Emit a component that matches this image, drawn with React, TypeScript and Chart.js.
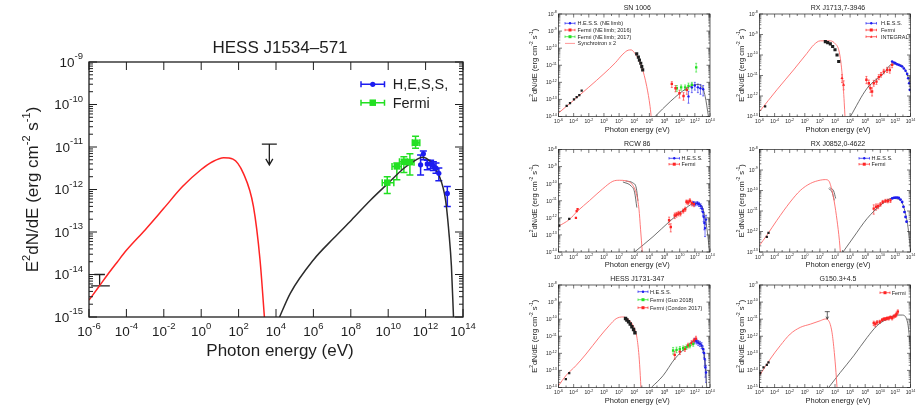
import React, { useEffect, useRef } from "react";
import { Chart, registerables } from "chart.js";
Chart.register(...registerables);

// ================= MAIN: HESS J1534-571 =================
const mainSyncE = [1e-6, 3.2e-6, 1e-5, 3.2e-5, 1e-4, 1e-3, 1e-2, 0.1, 1, 4, 16, 50, 180, 620, 1400, 2400];
const mainSyncF = [2.5e-15, 5e-15, 1e-14, 1.95e-14, 3.7e-14, 1.12e-13, 3.6e-13, 1.17e-12, 2.95e-12, 4.5e-12, 5.6e-12, 5.2e-12, 2.4e-12, 4.0e-13, 2.2e-14, 1e-15];
const mainIcE = [1.55e4, 5.8e4, 1e6, 1.2e7, 1.07e8, 1.12e9, 1e10, 6.9e10, 3.6e11, 6.6e11, 1.86e12, 5.1e12, 1.17e13, 1.78e13, 2.4e13, 3.1e13];
const mainIcF = [1e-15, 3.6e-15, 2.2e-14, 7.1e-14, 1.9e-13, 5.6e-13, 1.41e-12, 3.16e-12, 5.2e-12, 5.75e-12, 4.5e-12, 2.2e-12, 5.6e-13, 9.3e-14, 1.58e-14, 1e-15];
const fermiE = [8.9e9, 2.9e10, 6.9e10, 1.45e11, 2.9e11];
const fermiF = [1.45e-12, 3.5e-12, 4.5e-12, 4.4e-12, 1.26e-11];
const fermiFLo = [8.1e-13, 1.7e-12, 2.5e-12, 2.2e-12, 9.3e-12];
const fermiFHi = [2.0e-12, 4.2e-12, 5.9e-12, 6.9e-12, 1.8e-11];
const fermiELo = [4.8e9, 1.6e10, 4.0e10, 9.0e10, 1.95e11];
const fermiEHi = [2.0e10, 5.0e10, 1.1e11, 2.4e11, 4.9e11];
const hessE = [5.4e11, 7.6e11, 1.23e12, 1.86e12, 2.6e12, 3.6e12, 5.1e12, 1.45e13];
const hessF = [3.8e-12, 6.9e-12, 4.0e-12, 4.0e-12, 3.6e-12, 3.2e-12, 2.4e-12, 8.1e-13];
const hessFLo = [2.2e-12, 5.0e-12, 2.9e-12, 3.1e-12, 2.8e-12, 2.4e-12, 1.6e-12, 4.0e-13];
const hessFHi = [6.5e-12, 8.1e-12, 4.9e-12, 4.9e-12, 4.5e-12, 4.2e-12, 3.2e-12, 1.17e-12];
const radioE = [3.7e-6];
const radioF = [5.4e-15];
const radioFHi = [1.0e-14];
const radioELo = [1.3e-6];
const radioEHi = [1.3e-5];
const ulE = 4.4e3, ulF = 1.17e-11, ulTo = 3.8e-12;

// ================= P1: SN 1006 =================
const p1SyncE = [1e-6, 1e-4, 1e-2, 1, 32, 320, 1600, 4000, 1e4, 3.2e4, 1e5, 4.5e5, 1.23e6, 1.8e6];
const p1SyncF = [1.6e-14, 8.9e-14, 5.2e-13, 3.2e-12, 1.4e-11, 4.5e-11, 7.6e-11, 7.9e-11, 5.6e-11, 2.5e-11, 7.9e-12, 5.6e-13, 3.8e-14, 8e-15];
const p1IcE = [5.6e6, 5.5e8, 8.7e10, 1.8e12, 8.3e12, 2.3e13, 6.3e13];
const p1IcF = [1e-14, 7.4e-14, 4.5e-13, 7.5e-13, 6e-13, 1.5e-13, 1e-14];
const p1RadioE = [1.2e-5, 3.3e-5, 1.1e-4, 2.5e-4, 5.6e-4, 1.15e-3];
const p1RadioF = [4.2e-14, 6.0e-14, 1.0e-13, 1.35e-13, 1.8e-13, 3.3e-13];
const p1XrayE = [2.1e4, 3.5e4, 4.8e4, 7.2e4, 9.8e4, 1.3e5];
const p1XrayF = [4.6e-11, 3.0e-11, 2.0e-11, 1.3e-11, 8.3e-12, 5.4e-12];
const p1HessE = [1.45e11, 4e11, 1e12, 2.5e12, 5.5e12, 1.26e13];
const p1HessF = [1.5e-13, 5.1e-13, 6.5e-13, 5.1e-13, 4.5e-13, 3.9e-13];
const p1HessLo = [6e-14, 2.5e-13, 3.5e-13, 2.5e-13, 2e-13, 1.6e-13];
const p1HessHi = [3e-13, 8e-13, 1e-12, 8e-13, 7.5e-13, 6.5e-13];
const p1F16E = [9.1e8, 2.8e9, 9.3e9, 3.2e10, 8.7e10];
const p1F16F = [8.1e-13, 4.5e-13, 2.3e-13, 1.6e-13, 3.6e-13];
const p1F16Lo = [5e-13, 2.8e-13, 1.2e-13, 9e-14, 2e-13];
const p1F16Hi = [1.1e-12, 6.5e-13, 3.5e-13, 2.5e-13, 5e-13];
const p1F17E = [4.2e9, 1.55e10, 5.2e10, 1.45e11, 4e11, 1.5e12];
const p1F17F = [4.5e-13, 5.1e-13, 5.1e-13, 6.2e-13, 7.1e-13, 7.5e-12];
const p1F17Lo = [3e-13, 3.5e-13, 3.5e-13, 4e-13, 4.5e-13, 4e-12];
const p1F17Hi = [6.5e-13, 7e-13, 7e-13, 9e-13, 1e-12, 1.3e-11];

// ================= P2: RX J1713.7-3946 =================
const p2SyncE = [1e-6, 2e-4, 3.2e-2, 1.9, 15, 112, 2.4e3, 1.1e4, 3.1e4, 6e4, 8.9e4, 1.26e5, 1.66e5, 2.1e5];
const p2SyncF = [1.74e-13, 2e-12, 1.86e-11, 1.2e-10, 3.1e-10, 4.9e-10, 4.9e-10, 3.5e-10, 1.8e-10, 4.5e-11, 1.1e-11, 2.5e-12, 5e-13, 1e-13];
const p2XrayE = [525, 1070, 2400, 4900, 1e4, 1.86e4, 3.1e4];
const p2XrayF = [4.5e-10, 4e-10, 3.5e-10, 2.6e-10, 1.8e-10, 1e-10, 4.8e-11];
const p2IntE = [8.5e4, 1.4e5];
const p2IntF = [7.4e-12, 3.5e-12];
const p2IntLo = [4.5e-12, 2e-12];
const p2IntHi = [1.1e-11, 5.5e-12];
const p2RadioE = [5.6e-6];
const p2RadioF = [3.1e-13];
const p2FermiE = [1.45e8, 3e8, 4.9e8, 8.1e8, 1.35e9, 3.1e9, 6.3e9, 1.26e10, 2.9e10, 7.9e10, 1.8e11, 3.7e11];
const p2FermiF = [6.2e-12, 4.2e-12, 2.4e-12, 1.66e-12, 4.2e-12, 5e-12, 8.3e-12, 1.07e-11, 1.55e-11, 1.86e-11, 1.86e-11, 3.3e-11];
const p2FermiLo = [4e-12, 2.8e-12, 1.5e-12, 1e-12, 3e-12, 3.7e-12, 6.3e-12, 8.3e-12, 1.2e-11, 1.4e-11, 1.3e-11, 2.4e-11];
const p2FermiHi = [9e-12, 6e-12, 3.6e-12, 2.5e-12, 5.8e-12, 6.8e-12, 1.1e-11, 1.4e-11, 2e-11, 2.5e-11, 2.6e-11, 4.4e-11];
const p2HessE = [3.7e11, 6.2e11, 1e12, 1.7e12, 2.8e12, 4.7e12, 7.8e12, 1.3e13, 2.2e13, 3.6e13, 4.9e13, 6.6e13, 8.1e13];
const p2HessF = [4.8e-11, 4.3e-11, 4e-11, 3.5e-11, 3.3e-11, 3e-11, 2.75e-11, 2.2e-11, 1.7e-11, 1.2e-11, 7.4e-12, 4.2e-12, 2e-12];
const p2IcE = [1.1e6, 1.8e8, 2.9e10, 3.7e11, 4.7e12, 3.6e13, 1e14, 1.3e14];
const p2IcF = [1e-13, 2.4e-12, 1.3e-11, 3.6e-11, 3.3e-11, 1.07e-11, 1.4e-12, 1e-13];

// ================= P3: RCW 86 =================
const p3SyncE = [1e-6, 2.6e-5, 3.3e-4, 1.17e-2, 0.69, 15, 112, 870, 6.6e3, 2.2e4, 4.2e4, 6.9e4, 1.15e5];
const p3SyncF = [3.2e-13, 7.9e-13, 2.5e-12, 1e-11, 5e-11, 1.38e-10, 1.58e-10, 1.45e-10, 7.9e-11, 2e-11, 3.2e-12, 2e-13, 1e-14];
const p3BowAE = [316, 4e3, 1.1e4, 2.2e4];
const p3BowAF = [1.26e-10, 7.2e-11, 3.2e-11, 4e-12];
const p3BowBE = [710, 6.6e3, 1.86e4, 3.1e4];
const p3BowBF = [1.45e-10, 1.1e-10, 5.5e-11, 1e-11];
const p3RadioE = [1.23e-6, 2.6e-5];
const p3RadioF = [3.5e-13, 8.7e-13];
const p3RadRedE = [2e-4, 2.5e-4, 3.3e-4];
const p3RadRedF = [1e-12, 2.5e-12, 3.2e-12];
const p3FermiE = [4e8, 6.6e8, 2.2e9, 3.8e9, 6.9e9, 1.26e10, 2.9e10, 5.4e10, 7.9e10, 1.3e11, 2.2e11, 4.1e11, 7.6e11];
const p3FermiF = [7.2e-13, 2.9e-13, 1.38e-12, 1.58e-12, 1.8e-12, 1.8e-12, 2.5e-12, 3.2e-12, 8.7e-12, 7.9e-12, 1e-11, 7.2e-12, 6.3e-12];
const p3FermiLo = [4e-13, 1.5e-13, 9e-13, 1.1e-12, 1.3e-12, 1.3e-12, 1.9e-12, 2.4e-12, 6.5e-12, 5.8e-12, 7.5e-12, 5e-12, 4.5e-12];
const p3FermiHi = [1.1e-12, 4.5e-13, 1.9e-12, 2.1e-12, 2.4e-12, 2.4e-12, 3.3e-12, 4.2e-12, 1.1e-11, 1.05e-11, 1.3e-11, 9.5e-12, 8.5e-12];
const p3HessE = [6.2e11, 1.12e12, 2.1e12, 3.5e12, 5.8e12, 8.7e12, 1.17e13, 1.45e13, 1.8e13, 2.2e13, 3e13];
const p3HessF = [7.2e-12, 6.6e-12, 7.2e-12, 6.3e-12, 5e-12, 3.5e-12, 2.2e-12, 1.15e-12, 5e-13, 2.5e-13, 7.9e-13];
const p3HessLo = [5.5e-12, 5e-12, 5.5e-12, 4.6e-12, 3.5e-12, 2.3e-12, 1.3e-12, 6e-13, 2e-13, 8e-14, 4e-13];
const p3HessHi = [9e-12, 8.5e-12, 9e-12, 8e-12, 6.6e-12, 4.8e-12, 3.3e-12, 2e-12, 1e-12, 5.5e-13, 1.4e-12];
const p3IcE = [1.1e4, 3e6, 4.9e8, 7.9e10, 1e12, 7.9e12, 2.2e13, 6e13, 1.2e14];
const p3IcF = [1e-14, 7.9e-14, 6.3e-13, 4e-12, 7.2e-12, 5e-12, 1e-12, 5e-14, 1e-15];

// ================= P4: RX J0852.0-4622 =================
const p4SyncE = [1e-6, 9.3e-6, 2e-4, 1.17e-2, 0.25, 5.4, 112, 525, 1450, 4e3, 8.1e3, 1.86e4, 3.8e4, 5.1e4];
const p4SyncF = [2.1e-13, 6.5e-13, 3.5e-12, 2.75e-11, 1e-10, 2.2e-10, 3.2e-10, 3.4e-10, 3e-10, 1e-10, 2.75e-11, 3.5e-12, 3.7e-13, 1e-13];
const p4BowAE = [1450, 4e3, 8.1e3];
const p4BowAF = [1.23e-10, 8.5e-11, 3.3e-11];
const p4BowBE = [1950, 6.6e3, 1.23e4];
const p4BowBF = [1.38e-10, 9.5e-11, 4.1e-11];
const p4RadioE = [9.3e-6, 1.55e-5];
const p4RadioF = [5.4e-13, 8.5e-13];
const p4FermiE = [1.35e9, 2.75e9, 5.1e9, 1.05e10, 2.1e10, 4.8e10, 9.8e10, 2.2e11];
const p4FermiF = [1.3e-11, 1.6e-11, 1.7e-11, 2.1e-11, 2.75e-11, 3.1e-11, 3.1e-11, 3.3e-11];
const p4FermiLo = [7e-12, 1.1e-11, 1.3e-11, 1.7e-11, 2.3e-11, 2.6e-11, 2.5e-11, 2.6e-11];
const p4FermiHi = [2e-11, 2.2e-11, 2.2e-11, 2.6e-11, 3.3e-11, 3.7e-11, 3.8e-11, 4e-11];
const p4HessE = [3.7e11, 6.2e11, 1e12, 1.7e12, 2.8e12, 4.7e12, 7.8e12, 1.17e13, 1.6e13, 2.2e13, 3e13];
const p4HessF = [4.1e-11, 4.4e-11, 4.5e-11, 4.5e-11, 4.4e-11, 3.6e-11, 2.75e-11, 1.6e-11, 8.9e-12, 5.1e-12, 3e-12];
const p4IcE = [1.15e5, 3e6, 1.8e8, 1.05e10, 3.7e11, 4.7e12, 2.2e13, 6e13, 1e14];
const p4IcF = [1e-13, 5.4e-13, 4.3e-12, 1.9e-11, 4.1e-11, 3.3e-11, 7.4e-12, 7.9e-13, 1e-13];

// ================= P5: HESS J1731-347 =================
const p5SyncE = [1e-6, 9.3e-6, 2e-4, 4.3e-3, 0.25, 5.4, 41, 316, 2.4e3, 1.1e4, 2.2e4, 4.2e4, 6.3e4, 7.6e4];
const p5SyncF = [1.26e-14, 4.9e-14, 1.9e-13, 9.1e-13, 8.9e-12, 4.4e-11, 1.07e-10, 1.35e-10, 8.5e-11, 2.75e-11, 9e-12, 7.4e-13, 4.9e-14, 1e-14];
const p5XrayE = [710, 1070, 1780, 2950, 4900, 8100, 1.23e4];
const p5XrayF = [1.1e-10, 9e-11, 7e-11, 5.2e-11, 3.6e-11, 2.5e-11, 1.6e-11];
const p5RadioE = [9.3e-6, 2.6e-5];
const p5RadioF = [3.1e-14, 6.9e-14];
const p5GuoE = [1.35e9, 3.8e9, 1.05e10, 2.9e10, 7.9e10, 2.2e11, 6.2e11];
const p5GuoF = [1.45e-12, 1.6e-12, 1.8e-12, 2e-12, 2.3e-12, 2.9e-12, 3.6e-12];
const p5GuoLo = [9e-13, 1.1e-12, 1.3e-12, 1.5e-12, 1.7e-12, 2.1e-12, 2.6e-12];
const p5GuoHi = [2.2e-12, 2.3e-12, 2.5e-12, 2.7e-12, 3.1e-12, 3.9e-12, 5e-12];
const p5CondonE = [2.2e9, 1.05e10, 4.8e10, 1.3e11, 3.7e11, 7.6e11, 1.4e12];
const p5CondonF = [8.1e-13, 1.26e-12, 1.8e-12, 2.9e-12, 4.1e-12, 5.6e-12, 7.1e-12];
const p5CondonLo = [4.5e-13, 8.5e-13, 1.3e-12, 2.1e-12, 3e-12, 4e-12, 5e-12];
const p5CondonHi = [1.3e-12, 1.8e-12, 2.5e-12, 3.9e-12, 5.5e-12, 7.6e-12, 1e-11];
const p5HessE = [1e12, 1.7e12, 2.8e12, 4.7e12, 7.8e12, 1.17e13, 1.6e13, 1.95e13, 2.4e13, 3e13];
const p5HessF = [5.6e-12, 4.9e-12, 4.1e-12, 3.6e-12, 2.9e-12, 1.8e-12, 1.05e-12, 4.7e-13, 1.5e-13, 7.6e-14];
const p5HessLo = [4e-12, 3.5e-12, 2.9e-12, 2.5e-12, 1.9e-12, 1.1e-12, 5.5e-13, 1.8e-13, 4e-14, 2e-14];
const p5HessHi = [7.5e-12, 6.6e-12, 5.6e-12, 5e-12, 4.2e-12, 2.7e-12, 1.8e-12, 1e-12, 4e-13, 2e-13];
const p5IcE = [1.8e6, 6.3e7, 2.2e9, 7.9e10, 1e12, 7.8e12, 2.2e13, 5e13];
const p5IcF = [1e-14, 4.9e-14, 4.7e-13, 2.3e-12, 5.6e-12, 2.9e-12, 3e-13, 1e-15];

// ================= P6: G150.3+4.5 =================
const p6SyncE = [1e-6, 2.6e-5, 5.5e-4, 1.17e-2, 0.25, 5.4, 112, 525, 1450, 4e3, 8.1e3, 1.35e4, 1.86e4];
const p6SyncF = [4.9e-15, 4.6e-14, 2.8e-13, 1.35e-12, 3.3e-12, 5.1e-12, 8.1e-12, 1.02e-11, 8.1e-12, 1.7e-12, 1.12e-13, 7.6e-15, 1e-15];
const p6RadioE = [1.2e-6, 3.4e-6, 9.3e-6, 1.55e-5];
const p6RadioF = [6.9e-15, 1.5e-14, 2.1e-14, 3e-14];
const p6FermiE = [1.35e9, 2.2e9, 3.8e9, 8.5e9, 1.74e10, 2.9e10, 4.8e10, 7.9e10, 1.3e11, 2.2e11, 3.7e11, 6.2e11, 1e12, 1.4e12, 2.1e12];
const p6FermiF = [5.9e-12, 5.1e-12, 6.5e-12, 7.1e-12, 8.9e-12, 1.02e-11, 1.02e-11, 1.12e-11, 1.12e-11, 1.29e-11, 1.17e-11, 1.45e-11, 1.58e-11, 2e-11, 2.75e-11];
const p6FermiLo = [4.2e-12, 3.6e-12, 5e-12, 5.6e-12, 7.2e-12, 8.5e-12, 8.3e-12, 9.3e-12, 8.9e-12, 1.05e-11, 9e-12, 1.15e-11, 1.25e-11, 1.5e-11, 2.1e-11];
const p6FermiHi = [7.6e-12, 6.8e-12, 8.2e-12, 8.7e-12, 1.08e-11, 1.2e-11, 1.25e-11, 1.35e-11, 1.4e-11, 1.55e-11, 1.45e-11, 1.8e-11, 2e-11, 2.6e-11, 3.5e-11];
const p6IcE = [1450, 5.1e4, 3e6, 1.8e8, 3.8e9, 7.9e10, 1.7e12, 7.8e12, 3.6e13, 8.1e13, 1.66e14];
const p6IcF = [1e-15, 7.6e-15, 7.2e-14, 8.5e-13, 4.2e-12, 1.02e-11, 1.74e-11, 1.74e-11, 8.1e-12, 4.4e-13, 1e-15];
const p6UlE = 950, p6UlF = 2.75e-11, p6UlTo = 1e-11;

// ================= rendering =================
const FONT = '"Liberation Sans", Arial, Helvetica, sans-serif';
const INK = "#1e1e1e";
const BLUE = "#1c1cf0";
const GREEN = "#22e022";
const RED = "#ff2424";
const SRED = "#ff6a6a";
const GREY = "#4a4a4a";

type Marker = "circle" | "rect" | "triangle" | "none";
interface Series {
  E: number[]; F: number[]; color: string;
  line?: boolean; width?: number; marker?: Marker; r?: number;
  fLo?: number[]; fHi?: number[]; eLo?: number[]; eHi?: number[];
  cap?: number; capX?: boolean; errW?: number;
}
interface LegItem { label: string; color: string; marker: Marker; caps?: boolean }
interface PanelDef {
  key: string; small: boolean;
  box: [number, number, number, number];
  plot: [number, number, number, number];
  yExp: [number, number];
  title: string; yTitleX: number;
  legend: { x: number; len: number; textX: number; y: number; dy: number; items: LegItem[] };
  series: Series[];
  uls: { E: number; F: number; to: number }[];
}

const MAIN_ST = { tick: 13.5, sup: 9.5, xSupRaise: 6, ySupRaise: 6.5, xLabDY: 15, yLabDX: 6, yLabDY: 1, titleF: 17, axisF: 17, legF: 14.5, major: 8, minor: 4, minorX: 0, frameW: 1.3, tickW: 1, errW: 1.5, cap: 3.5, xTitleDY: 34, titleDY: -14, titleDX: 4, legCap: 3, legW: 1.5, legR: 2.6, ulHalf: 7.5, ulHead: 3.5, ulHeadLen: 6, ulW: 1.3 };
const SMALL_ST = { tick: 5, sup: 3.6, xSupRaise: 2.2, ySupRaise: 2.2, xLabDY: 5.5, yLabDX: 1.8, yLabDY: 0.5, titleF: 7, axisF: 7.5, legF: 5.5, major: 3.5, minor: 1.8, minorX: 2, frameW: 0.7, tickW: 0.6, errW: 0.6, cap: 1, xTitleDY: 13, titleDY: -5.5, titleDX: 3, legCap: 1.2, legW: 0.7, legR: 1.2, ulHalf: 2.5, ulHead: 1.3, ulHeadLen: 2.5, ulW: 0.7 };

const smallLine = (E: number[], F: number[], color: string, width = 0.9): Series => ({ E, F, color, line: true, width });
const smallPts = (E: number[], F: number[], color: string, marker: Marker, r: number, fLo?: number[], fHi?: number[]): Series => ({ E, F, color, marker, r, fLo, fHi });

const LEFT_PLOT_X: [number, number] = [558.5, 710];
const RIGHT_PLOT_X: [number, number] = [759.5, 910.5];
const ROWS: [number, number][] = [[14, 116.5], [149.5, 252], [285, 387.5]];

const PANELS: PanelDef[] = [
  {
    key: "main", small: false, box: [0, 0, 500, 407], plot: [89, 62, 463, 317], yExp: [-15, -9],
    title: "HESS J1534\u2013571", yTitleX: 33,
    legend: { x: 361, len: 23.5, textX: 392.7, y: 84.3, dy: 18.4, items: [
      { label: "H,E,S,S,", color: BLUE, marker: "circle", caps: true },
      { label: "Fermi", color: GREEN, marker: "rect", caps: true },
    ] },
    series: [
      { E: mainSyncE, F: mainSyncF, color: RED, line: true, width: 1.5 },
      { E: mainIcE, F: mainIcF, color: "#2b2b2b", line: true, width: 1.5 },
      { E: fermiE, F: fermiF, color: GREEN, marker: "rect", r: 4.6, fLo: fermiFLo, fHi: fermiFHi, eLo: fermiELo, eHi: fermiEHi, capX: true },
      { E: hessE, F: hessF, color: BLUE, marker: "circle", r: 2.6, fLo: hessFLo, fHi: hessFHi },
      { E: radioE, F: radioF, color: INK, marker: "none", fLo: radioF, fHi: radioFHi, eLo: radioELo, eHi: radioEHi, cap: 5.3, errW: 1.3 },
    ],
    uls: [{ E: ulE, F: ulF, to: ulTo }],
  },
  {
    key: "p1", small: true, box: [518, 0, 200, 135], plot: [LEFT_PLOT_X[0], ROWS[0][0], LEFT_PLOT_X[1], ROWS[0][1]], yExp: [-14, -8],
    title: "SN 1006", yTitleX: 535,
    legend: { x: 565, len: 10, textX: 577.5, y: 23.3, dy: 6.7, items: [
      { label: "H.E.S.S. (NE limb)", color: BLUE, marker: "circle", caps: true },
      { label: "Fermi (NE limb; 2016)", color: RED, marker: "rect", caps: true },
      { label: "Fermi (NE limb; 2017)", color: GREEN, marker: "rect", caps: true },
      { label: "Synchrotron x 2", color: SRED, marker: "none" },
    ] },
    series: [
      smallLine(p1SyncE, p1SyncF, SRED),
      smallLine(p1IcE, p1IcF, GREY, 0.8),
      smallPts(p1RadioE, p1RadioF, INK, "rect", 1.6),
      smallPts(p1XrayE, p1XrayF, INK, "rect", 2.2),
      smallPts(p1HessE, p1HessF, BLUE, "circle", 1.2, p1HessLo, p1HessHi),
      smallPts(p1F16E, p1F16F, RED, "rect", 1.7, p1F16Lo, p1F16Hi),
      smallPts(p1F17E, p1F17F, GREEN, "rect", 1.7, p1F17Lo, p1F17Hi),
    ],
    uls: [],
  },
  {
    key: "p2", small: true, box: [716, 0, 200, 135], plot: [RIGHT_PLOT_X[0], ROWS[0][0], RIGHT_PLOT_X[1], ROWS[0][1]], yExp: [-13, -8],
    title: "RX J1713,7-3946", yTitleX: 741.5,
    legend: { x: 866, len: 10.5, textX: 881, y: 23.3, dy: 6.7, items: [
      { label: "H.E.S.S.", color: BLUE, marker: "circle", caps: true },
      { label: "Fermi", color: RED, marker: "rect", caps: true },
      { label: "INTEGRAL", color: RED, marker: "triangle", caps: true },
    ] },
    series: [
      smallLine(p2SyncE, p2SyncF, SRED),
      smallLine(p2IcE, p2IcF, GREY, 0.8),
      smallPts(p2RadioE, p2RadioF, INK, "rect", 1.6),
      smallPts(p2XrayE, p2XrayF, INK, "rect", 2.2),
      smallPts(p2IntE, p2IntF, RED, "triangle", 1.8, p2IntLo, p2IntHi),
      smallPts(p2FermiE, p2FermiF, RED, "rect", 1.7, p2FermiLo, p2FermiHi),
      smallPts(p2HessE, p2HessF, BLUE, "circle", 1.3),
    ],
    uls: [],
  },
  {
    key: "p3", small: true, box: [518, 135, 200, 136], plot: [LEFT_PLOT_X[0], ROWS[1][0], LEFT_PLOT_X[1], ROWS[1][1]], yExp: [-14, -8],
    title: "RCW 86", yTitleX: 535,
    legend: { x: 669, len: 10.5, textX: 681.5, y: 158.3, dy: 5.9, items: [
      { label: "H.E.S.S.", color: BLUE, marker: "circle", caps: true },
      { label: "Fermi", color: RED, marker: "rect", caps: true },
    ] },
    series: [
      smallLine(p3SyncE, p3SyncF, SRED),
      smallLine(p3IcE, p3IcF, GREY, 0.8),
      smallLine(p3BowAE, p3BowAF, GREY, 0.8),
      smallLine(p3BowBE, p3BowBF, GREY, 0.8),
      smallPts(p3RadioE, p3RadioF, INK, "rect", 1.6),
      smallPts(p3RadRedE, p3RadRedF, RED, "rect", 1.6),
      smallPts(p3FermiE, p3FermiF, RED, "rect", 1.7, p3FermiLo, p3FermiHi),
      smallPts(p3HessE, p3HessF, BLUE, "circle", 1.2, p3HessLo, p3HessHi),
    ],
    uls: [],
  },
  {
    key: "p4", small: true, box: [716, 135, 200, 136], plot: [RIGHT_PLOT_X[0], ROWS[1][0], RIGHT_PLOT_X[1], ROWS[1][1]], yExp: [-13, -8],
    title: "RX J0852,0-4622", yTitleX: 741.5,
    legend: { x: 859, len: 10.5, textX: 871.5, y: 158.3, dy: 5.9, items: [
      { label: "H.E.S.S.", color: BLUE, marker: "circle", caps: true },
      { label: "Fermi", color: RED, marker: "rect", caps: true },
    ] },
    series: [
      smallLine(p4SyncE, p4SyncF, SRED),
      smallLine(p4IcE, p4IcF, GREY, 0.8),
      smallLine(p4BowAE, p4BowAF, GREY, 0.8),
      smallLine(p4BowBE, p4BowBF, GREY, 0.8),
      smallPts(p4RadioE, p4RadioF, INK, "rect", 1.6),
      smallPts(p4FermiE, p4FermiF, RED, "rect", 1.7, p4FermiLo, p4FermiHi),
      smallPts(p4HessE, p4HessF, BLUE, "circle", 1.4),
    ],
    uls: [],
  },
  {
    key: "p5", small: true, box: [518, 271, 200, 136], plot: [LEFT_PLOT_X[0], ROWS[2][0], LEFT_PLOT_X[1], ROWS[2][1]], yExp: [-14, -8],
    title: "HESS J1731-347", yTitleX: 535,
    legend: { x: 638, len: 10, textX: 650, y: 291.7, dy: 8, items: [
      { label: "H.E.S.S.", color: BLUE, marker: "circle", caps: true },
      { label: "Fermi (Guo 2018)", color: GREEN, marker: "rect", caps: true },
      { label: "Fermi (Condon 2017)", color: RED, marker: "rect", caps: true },
    ] },
    series: [
      smallLine(p5SyncE, p5SyncF, SRED),
      smallLine(p5IcE, p5IcF, GREY, 0.8),
      smallPts(p5RadioE, p5RadioF, INK, "rect", 1.6),
      smallPts(p5XrayE, p5XrayF, INK, "rect", 2.4),
      smallPts(p5GuoE, p5GuoF, GREEN, "rect", 1.7, p5GuoLo, p5GuoHi),
      smallPts(p5CondonE, p5CondonF, RED, "rect", 1.7, p5CondonLo, p5CondonHi),
      smallPts(p5HessE, p5HessF, BLUE, "circle", 1.2, p5HessLo, p5HessHi),
    ],
    uls: [],
  },
  {
    key: "p6", small: true, box: [716, 271, 200, 136], plot: [RIGHT_PLOT_X[0], ROWS[2][0], RIGHT_PLOT_X[1], ROWS[2][1]], yExp: [-15, -9],
    title: "G150.3+4.5", yTitleX: 741.5,
    legend: { x: 880, len: 10, textX: 891.7, y: 292.7, dy: 6, items: [
      { label: "Fermi", color: RED, marker: "rect", caps: true },
    ] },
    series: [
      smallLine(p6SyncE, p6SyncF, SRED),
      smallLine(p6IcE, p6IcF, GREY, 0.8),
      smallPts(p6RadioE, p6RadioF, INK, "rect", 1.6),
      smallPts(p6FermiE, p6FermiF, RED, "rect", 1.7, p6FermiLo, p6FermiHi),
    ],
    uls: [{ E: p6UlE, F: p6UlF, to: p6UlTo }],
  },
];

const font = (s: number) => `${s}px ${FONT}`;

function drawPow(ctx: CanvasRenderingContext2D, e: number, x: number, y: number, align: "center" | "right", st: any, raise: number) {
  const base = "10", ex = String(e);
  ctx.font = font(st.tick);
  const wb = ctx.measureText(base).width;
  ctx.font = font(st.sup);
  const we = ctx.measureText(ex).width;
  const total = wb + we;
  const sx = align === "center" ? x - total / 2 : x - total;
  ctx.textAlign = "left";
  ctx.textBaseline = "middle";
  ctx.font = font(st.tick);
  ctx.fillText(base, sx, y);
  ctx.font = font(st.sup);
  ctx.fillText(ex, sx + wb, y - raise);
}

function drawRich(ctx: CanvasRenderingContext2D, segs: [string, boolean][], size: number, cx: number, cy: number, rotate: boolean) {
  ctx.save();
  ctx.translate(cx, cy);
  if (rotate) ctx.rotate(-Math.PI / 2);
  ctx.textAlign = "left";
  ctx.textBaseline = "middle";
  let total = 0;
  const ws = segs.map(([t, sup]) => {
    ctx.font = font(sup ? size * 0.65 : size);
    const w = ctx.measureText(t).width;
    total += w;
    return w;
  });
  let x = -total / 2;
  segs.forEach(([t, sup], i) => {
    ctx.font = font(sup ? size * 0.65 : size);
    ctx.fillText(t, x, sup ? -size * 0.38 : 0);
    x += ws[i];
  });
  ctx.restore();
}

function drawMarker(ctx: CanvasRenderingContext2D, m: Marker, x: number, y: number, r: number) {
  if (m === "none") return;
  ctx.beginPath();
  if (m === "circle") ctx.arc(x, y, r, 0, Math.PI * 2);
  else if (m === "rect") ctx.rect(x - r, y - r, 2 * r, 2 * r);
  else { ctx.moveTo(x, y - r * 1.2); ctx.lineTo(x + r, y + r * 0.8); ctx.lineTo(x - r, y + r * 0.8); ctx.closePath(); }
  ctx.fill();
}

function makePlugin(p: PanelDef) {
  const st: any = p.small ? SMALL_ST : MAIN_ST;
  return {
    id: "sedFrame",
    beforeDatasetsDraw(chart: any) {
      const ctx: CanvasRenderingContext2D = chart.ctx;
      const a = chart.chartArea, X = chart.scales.x, Y = chart.scales.y;
      ctx.save();
      ctx.beginPath();
      ctx.rect(a.left, a.top, a.right - a.left, a.bottom - a.top);
      ctx.clip();
      p.series.forEach((s) => {
        if (!s.fLo && !s.eLo) return;
        ctx.strokeStyle = s.color;
        ctx.lineWidth = s.errW ?? st.errW;
        const cap = s.cap ?? st.cap;
        s.E.forEach((e, j) => {
          const x = X.getPixelForValue(e), y = Y.getPixelForValue(s.F[j]);
          ctx.beginPath();
          if (s.fLo && s.fHi) {
            const y1 = Y.getPixelForValue(s.fLo[j]), y2 = Y.getPixelForValue(s.fHi[j]);
            ctx.moveTo(x, y1); ctx.lineTo(x, y2);
            ctx.moveTo(x - cap, y1); ctx.lineTo(x + cap, y1);
            ctx.moveTo(x - cap, y2); ctx.lineTo(x + cap, y2);
          }
          if (s.eLo && s.eHi) {
            const x1 = X.getPixelForValue(s.eLo[j]), x2 = X.getPixelForValue(s.eHi[j]);
            ctx.moveTo(x1, y); ctx.lineTo(x2, y);
            if (s.capX) {
              ctx.moveTo(x1, y - cap); ctx.lineTo(x1, y + cap);
              ctx.moveTo(x2, y - cap); ctx.lineTo(x2, y + cap);
            }
          }
          ctx.stroke();
        });
      });
      ctx.restore();
    },
    afterDraw(chart: any) {
      const ctx: CanvasRenderingContext2D = chart.ctx;
      const a = chart.chartArea, X = chart.scales.x, Y = chart.scales.y;
      const bx = p.box[0], by = p.box[1];
      ctx.save();
      ctx.fillStyle = INK;
      ctx.strokeStyle = INK;
      // upper limits
      p.uls.forEach((u) => {
        const x = X.getPixelForValue(u.E), y1 = Y.getPixelForValue(u.F), y2 = Y.getPixelForValue(u.to);
        ctx.lineWidth = st.ulW;
        ctx.beginPath();
        ctx.moveTo(x - st.ulHalf, y1); ctx.lineTo(x + st.ulHalf, y1);
        ctx.moveTo(x, y1); ctx.lineTo(x, y2);
        ctx.moveTo(x - st.ulHead, y2 - st.ulHeadLen); ctx.lineTo(x, y2); ctx.lineTo(x + st.ulHead, y2 - st.ulHeadLen);
        ctx.stroke();
      });
      // frame
      ctx.lineWidth = st.frameW;
      ctx.strokeRect(a.left, a.top, a.right - a.left, a.bottom - a.top);
      // ticks
      ctx.lineWidth = st.tickW;
      ctx.beginPath();
      for (let e = -6; e <= 14; e++) {
        const len = e % 2 === 0 ? st.major : st.minorX;
        if (!len) continue;
        const x = X.getPixelForValue(Math.pow(10, e));
        ctx.moveTo(x, a.bottom); ctx.lineTo(x, a.bottom - len);
        ctx.moveTo(x, a.top); ctx.lineTo(x, a.top + len);
      }
      for (let e = p.yExp[0]; e <= p.yExp[1]; e++) {
        const y = Y.getPixelForValue(Math.pow(10, e));
        ctx.moveTo(a.left, y); ctx.lineTo(a.left + st.major, y);
        ctx.moveTo(a.right, y); ctx.lineTo(a.right - st.major, y);
        if (e < p.yExp[1]) {
          for (let k = 2; k <= 9; k++) {
            const yy = Y.getPixelForValue(k * Math.pow(10, e));
            ctx.moveTo(a.left, yy); ctx.lineTo(a.left + st.minor, yy);
            ctx.moveTo(a.right, yy); ctx.lineTo(a.right - st.minor, yy);
          }
        }
      }
      ctx.stroke();
      // tick labels
      for (let e = -6; e <= 14; e += 2) {
        const x = X.getPixelForValue(Math.pow(10, e));
        drawPow(ctx, e, x, a.bottom + st.xLabDY, "center", st, st.xSupRaise);
      }
      for (let e = p.yExp[0]; e <= p.yExp[1]; e++) {
        const y = Y.getPixelForValue(Math.pow(10, e));
        drawPow(ctx, e, a.left - st.yLabDX, y + st.yLabDY, "right", st, st.ySupRaise);
      }
      // titles
      const cx = (a.left + a.right) / 2 + st.titleDX;
      ctx.textAlign = "center";
      ctx.textBaseline = "middle";
      ctx.font = font(st.titleF);
      ctx.fillText(p.title, cx, a.top + st.titleDY);
      ctx.font = font(st.axisF);
      ctx.fillText("Photon energy (eV)", cx, a.bottom + st.xTitleDY);
      drawRich(ctx, [["E", false], ["2", true], ["dN/dE (erg cm", false], ["-2", true], [" s", false], ["-1", true], [")", false]],
        st.axisF, p.yTitleX - bx, (a.top + a.bottom) / 2, true);
      // legend
      const L = p.legend;
      L.items.forEach((it, i) => {
        const y = L.y + i * L.dy - by;
        const x0 = L.x - bx, x1 = x0 + L.len;
        ctx.strokeStyle = it.color;
        ctx.fillStyle = it.color;
        ctx.lineWidth = st.legW;
        ctx.beginPath();
        ctx.moveTo(x0, y); ctx.lineTo(x1, y);
        if (it.caps) {
          ctx.moveTo(x0, y - st.legCap); ctx.lineTo(x0, y + st.legCap);
          ctx.moveTo(x1, y - st.legCap); ctx.lineTo(x1, y + st.legCap);
        }
        ctx.stroke();
        drawMarker(ctx, it.marker, (x0 + x1) / 2, y, it.marker === "rect" ? st.legR * 1.25 : st.legR);
        ctx.fillStyle = INK;
        ctx.font = font(st.legF);
        ctx.textAlign = "left";
        ctx.textBaseline = "middle";
        ctx.fillText(it.label, L.textX - bx, y + (p.small ? 0.3 : 1));
      });
      ctx.restore();
    },
  };
}

function buildConfig(p: PanelDef): any {
  const [bx, by, bw, bh] = p.box;
  const [l, t, r, b] = p.plot;
  return {
    type: "line",
    data: {
      datasets: p.series.map((s) => ({
        data: s.E.map((e, i) => ({ x: e, y: s.F[i] })),
        showLine: !!s.line,
        borderColor: s.color,
        backgroundColor: s.color,
        borderWidth: s.width ?? 1,
        pointRadius: s.marker && s.marker !== "none" ? s.r : 0,
        pointStyle: s.marker === "rect" ? "rect" : s.marker === "triangle" ? "triangle" : "circle",
        pointBorderWidth: 0,
        cubicInterpolationMode: "monotone",
        fill: false,
        order: s.line ? 1 : 0,
      })),
    },
    options: {
      responsive: false,
      animation: false,
      devicePixelRatio: 1,
      events: [],
      layout: { padding: { left: l - bx, top: t - by, right: bx + bw - r, bottom: by + bh - b } },
      scales: {
        x: { type: "logarithmic", min: 1e-6, max: 1e14, display: false },
        y: { type: "logarithmic", min: Math.pow(10, p.yExp[0]), max: Math.pow(10, p.yExp[1]), display: false },
      },
      plugins: { legend: { display: false }, tooltip: { enabled: false }, title: { display: false } },
    },
    plugins: [makePlugin(p)],
  };
}

function SedPanel({ def }: { def: PanelDef }) {
  const ref = useRef<HTMLCanvasElement>(null);
  useEffect(() => {
    const c = ref.current;
    if (!c) return;
    const chart = new Chart(c, buildConfig(def));
    return () => chart.destroy();
  }, [def]);
  const [l, t, w, h] = def.box;
  return (
    <canvas ref={ref} width={w} height={h}
      style={{ position: "absolute", left: l, top: t, width: w, height: h }} />
  );
}

export default function App() {
  return (
    <div style={{ position: "absolute", left: 0, top: 0, width: 916, height: 407, background: "#fff", overflow: "hidden" }}>
      {PANELS.map((p) => <SedPanel key={p.key} def={p} />)}
    </div>
  );
}
